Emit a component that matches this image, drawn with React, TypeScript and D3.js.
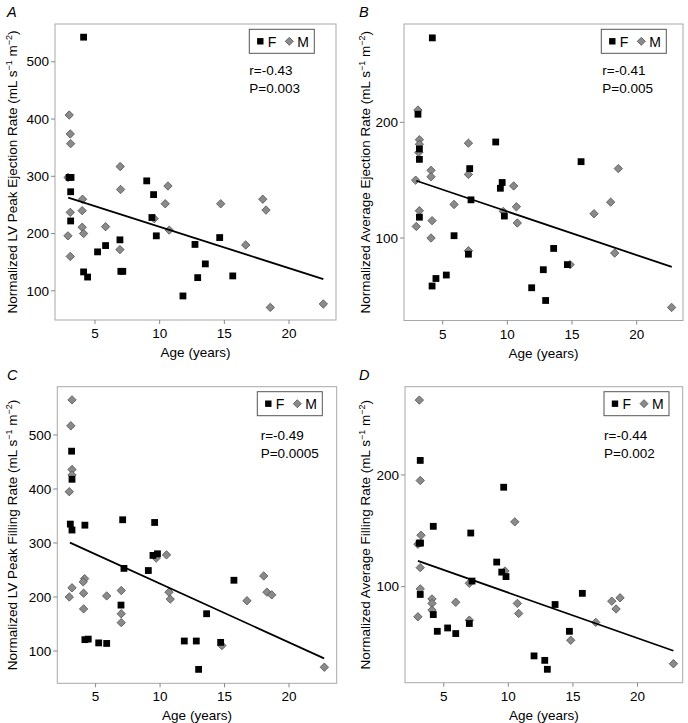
import React from "react";
import * as d3 from "d3";

// ---------------- DATA ----------------
const xTicks = [5, 10, 15, 20];
const yTicksA = [100, 200, 300, 400, 500];
const yTicksB = [100, 200];
const yTicksC = [100, 200, 300, 400, 500];
const yTicksD = [100, 200];

// Panel A: LV peak ejection rate
const aF: [number, number][] = [
  [4.12, 543], [3.0, 298], [3.15, 298], [3.12, 273], [9.0, 292], [9.53, 268], [3.12, 222],
  [4.12, 133], [4.43, 124], [5.2, 168], [5.82, 179], [6.93, 189], [7.0, 134], [7.15, 134],
  [9.4, 228], [9.74, 196], [12.73, 181], [11.8, 91], [12.94, 123], [13.53, 147], [14.64, 193],
  [15.65, 126],
];
const aM: [number, number][] = [
  [3.01, 407], [3.09, 374], [3.12, 357], [2.92, 298], [6.95, 317], [6.98, 277], [10.64, 283],
  [4.04, 260], [17.97, 260], [3.09, 237], [2.91, 196], [3.09, 160], [4.01, 240], [4.01, 211],
  [4.12, 200], [5.82, 212], [6.93, 172], [9.58, 226], [10.43, 252], [10.74, 206], [14.72, 252],
  [16.65, 180], [18.22, 241], [18.55, 71], [22.65, 77],
];
const fitAx = [2.93, 22.65];
const fitAy = [262.6, 120.5];

// Panel B: average ejection rate
const bF: [number, number][] = [
  [4.2, 273], [3.09, 207], [3.2, 177], [3.2, 168], [7.09, 160], [9.1, 183], [9.6, 148],
  [9.46, 143], [15.7, 166], [3.2, 118], [5.88, 102], [7.19, 133], [6.99, 86], [9.77, 119],
  [5.28, 68], [4.48, 65], [4.18, 58.5], [11.88, 57], [12.96, 46], [12.78, 72.6], [13.58, 91],
  [14.64, 77],
];
const bM: [number, number][] = [
  [3.09, 210.6], [3.2, 185], [3.2, 181], [3.15, 174], [2.91, 150], [4.1, 158.5], [4.1, 153],
  [6.99, 182], [6.99, 155], [10.49, 145], [18.58, 160], [17.99, 131], [3.2, 123.6], [2.96, 110],
  [4.18, 115], [4.1, 100], [5.88, 129], [6.99, 89], [9.69, 123], [10.7, 127], [10.77, 113],
  [14.85, 77], [16.7, 121], [18.3, 87], [22.7, 40],
];
const fitBx = [2.96, 22.71];
const fitBy = [149.5, 75];

// Panel C: LV peak filling rate
const cF: [number, number][] = [
  [3.14, 470], [3.17, 418], [3.04, 335], [3.17, 324], [4.17, 333], [7.1, 343], [9.58, 338],
  [4.17, 121], [4.43, 122], [5.24, 115], [5.86, 114], [6.97, 185], [7.2, 253], [9.09, 249],
  [9.45, 277], [9.8, 280], [11.88, 118.5], [12.81, 118.5], [12.99, 66], [13.61, 169],
  [14.7, 116], [15.73, 231],
];
const cM: [number, number][] = [
  [3.17, 565], [3.08, 517], [3.17, 436], [3.17, 426], [2.96, 395], [2.96, 200], [3.17, 217],
  [4.15, 234], [4.04, 228], [4.07, 207], [4.07, 178], [5.86, 202], [6.99, 212], [6.99, 169],
  [6.99, 152.5], [9.7, 272], [10.5, 278], [10.69, 209], [10.79, 196], [14.8, 110], [16.74, 193],
  [18.04, 239], [18.29, 209], [18.66, 204], [22.74, 70],
];
const fitCx = [3.01, 22.72];
const fitCy = [300.6, 86.4];

// Panel D: average filling rate
const dF: [number, number][] = [
  [3.18, 213], [9.64, 189], [4.19, 154], [7.09, 148], [3.1, 139], [3.2, 139], [3.18, 93],
  [4.19, 75], [4.5, 60], [5.3, 63], [5.93, 58], [7.19, 105], [6.98, 67], [9.1, 122],
  [9.49, 113], [9.82, 109], [11.99, 38], [12.82, 34], [13.02, 26], [13.62, 84], [14.73, 60],
  [15.73, 94],
];
const dM: [number, number][] = [
  [3.11, 267], [3.18, 195], [10.5, 158], [3.24, 146], [3.0, 138], [3.18, 117], [3.18, 98],
  [3.0, 73], [4.09, 89], [4.09, 85], [4.09, 79], [5.93, 86], [6.98, 103], [6.98, 70],
  [9.74, 114], [10.7, 85], [10.8, 76], [14.83, 52], [16.77, 68], [18.01, 87], [18.34, 80],
  [18.65, 90], [22.78, 31],
];
const fitDx = [3.0, 22.78];
const fitDy = [123, 42.6];

const letters = ["A", "B", "C", "D"];
const yLabels = [
  "Normalized LV Peak Ejection Rate",
  "Normalized Average Ejection Rate",
  "Normalized LV Peak Filling Rate",
  "Normalized Average Filling Rate",
];
const rTexts = ["r=-0.43", "r=-0.41", "r=-0.49", "r=-0.44"];
const pTexts = ["P=0.003", "P=0.005", "P=0.0005", "P=0.002"];

// ---------------- LAYOUT ----------------
const FONT = "'Liberation Sans', Arial, Helvetica, sans-serif";

const panels = [
  {
    F: aF, M: aM, fitX: fitAx, fitY: fitAy, yTicks: yTicksA,
    box: { l: 55, t: 24, r: 336, b: 320 }, xDom: [1.91, 23.63], yDom: [49, 566],
    letter: [7, 17], yLabX: 17, legend: [249.3, 29.3], stats: [249.3, 74.5, 93],
  },
  {
    F: bF, M: bM, fitX: fitBx, fitY: fitBy, yTicks: yTicksB,
    box: { l: 404, t: 24, r: 683, b: 320.5 }, xDom: [2.01, 23.58], yDom: [28.7, 285],
    letter: [359, 17], yLabX: 370, legend: [601.3, 29.3], stats: [602.3, 75, 93.3],
  },
  {
    F: cF, M: cM, fitX: fitCx, fitY: fitCy, yTicks: yTicksC,
    box: { l: 57.3, t: 386.7, r: 336.7, b: 683.3 }, xDom: [2.03, 23.7], yDom: [40.2, 589.4],
    letter: [7, 380], yLabX: 17, legend: [257.3, 391.7], stats: [260.7, 440, 458.3],
  },
  {
    F: dF, M: dM, fitX: fitDx, fitY: fitDy, yTicks: yTicksD,
    box: { l: 405, t: 386.7, r: 682.7, b: 682.7 }, xDom: [2.0, 23.5], yDom: [14, 279],
    letter: [359, 380], yLabX: 370, legend: [604, 391.7], stats: [604, 440, 458.3],
  },
];

const SQ = 6.8; // square side
const DH = 4.2; // diamond half-diagonal

function diamond(cx: number, cy: number, h: number) {
  return `M${cx},${cy - h}L${cx + h},${cy}L${cx},${cy + h}L${cx - h},${cy}Z`;
}

function Panel({ p, i }: { p: any; i: number }) {
  const { box } = p;
  const x = d3.scaleLinear().domain(p.xDom).range([box.l, box.r]);
  const y = d3.scaleLinear().domain(p.yDom).range([box.b, box.t]);
  const line = d3
    .line<number>()
    .x((_, k) => x(p.fitX[k]))
    .y((_, k) => y(p.fitY[k]));
  const cy = (box.t + box.b) / 2;
  const [lx, ly] = p.legend;
  return (
    <g fontFamily={FONT} fill="#000">
      <text x={p.letter[0]} y={p.letter[1]} fontSize={14.5} fontStyle="italic">
        {letters[i]}
      </text>
      {/* frame */}
      <rect x={box.l} y={box.t} width={box.r - box.l} height={box.b - box.t} fill="none" stroke="#a8a8a8" strokeWidth={1} />
      {/* x ticks */}
      {xTicks.map((t) => (
        <g key={"x" + t}>
          <line x1={x(t)} x2={x(t)} y1={box.b} y2={box.b + 4} stroke="#888" />
          <text x={x(t)} y={box.b + 18} fontSize={13.5} textAnchor="middle">
            {t}
          </text>
        </g>
      ))}
      {/* y ticks */}
      {p.yTicks.map((t: number) => (
        <g key={"y" + t}>
          <line x1={box.l - 4} x2={box.l} y1={y(t)} y2={y(t)} stroke="#888" />
          <text x={box.l - 6} y={y(t) + 4.7} fontSize={13.5} textAnchor="end">
            {t}
          </text>
        </g>
      ))}
      {/* axis labels */}
      <text x={(box.l + box.r) / 2} y={box.b + 37} fontSize={13.5} textAnchor="middle">
        Age (years)
      </text>
      <text transform={`translate(${p.yLabX},${cy}) rotate(-90)`} fontSize={13.5} textAnchor="middle">
        {yLabels[i]} (mL s
        <tspan dy={-5} fontSize={9}>−1</tspan>
        <tspan dy={5}> m</tspan>
        <tspan dy={-5} fontSize={9}>−2</tspan>
        <tspan dy={5}>)</tspan>
      </text>
      {/* points */}
      {p.M.map((d: [number, number], k: number) => (
        <path key={"m" + k} d={diamond(x(d[0]), y(d[1]), DH)} fill="#8a8a8a" stroke="#505050" strokeWidth={0.8} />
      ))}
      {p.F.map((d: [number, number], k: number) => (
        <rect key={"f" + k} x={x(d[0]) - SQ / 2} y={y(d[1]) - SQ / 2} width={SQ} height={SQ} fill="#000" />
      ))}
      {/* fit line */}
      <path d={line(p.fitX) || ""} fill="none" stroke="#000" strokeWidth={1.8} />
      {/* legend */}
      <rect x={lx} y={ly} width={65} height={24} fill="#fff" stroke="#555" strokeWidth={1} />
      <rect x={lx + 11 - 3.2} y={ly + 12 - 3.2} width={6.4} height={6.4} fill="#000" />
      <text x={lx + 18.5} y={ly + 17.3} fontSize={14}>F</text>
      <path d={diamond(lx + 40, ly + 12, 4)} fill="#8a8a8a" stroke="#505050" strokeWidth={0.8} />
      <text x={lx + 48} y={ly + 17.3} fontSize={14}>M</text>
      {/* stats */}
      <text x={p.stats[0]} y={p.stats[1]} fontSize={13.5}>{rTexts[i]}</text>
      <text x={p.stats[0]} y={p.stats[2]} fontSize={13.5}>{pTexts[i]}</text>
    </g>
  );
}

export default function App() {
  return (
    <svg
      width={688}
      height={723}
      viewBox="0 0 688 723"
      style={{ position: "absolute", left: 0, top: 0, background: "#fff" }}
    >
      <rect x={0} y={0} width={688} height={723} fill="#fff" />
      {panels.map((p, i) => (
        <Panel key={i} p={p} i={i} />
      ))}
    </svg>
  );
}
